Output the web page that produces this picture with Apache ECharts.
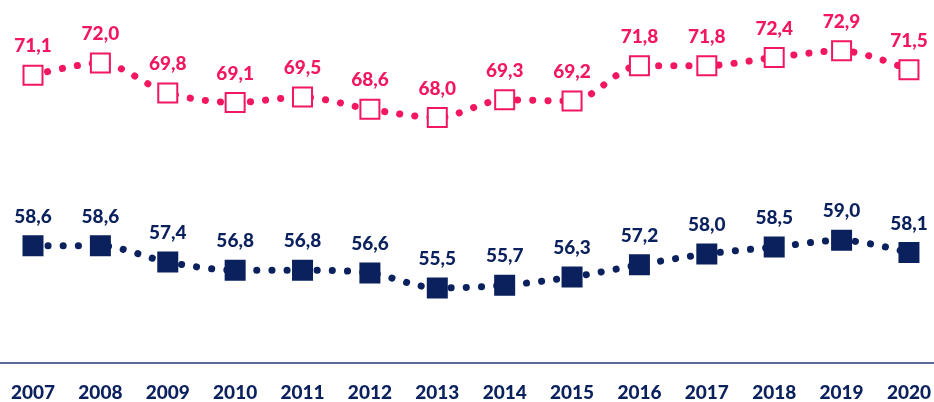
<!DOCTYPE html>
<html>
<head>
<meta charset="utf-8">
<script src="https://cdn.jsdelivr.net/npm/echarts@6/dist/echarts.min.js"></script>
<style>
  html, body { margin: 0; padding: 0; background: #fff; }
  #chart { width: 934px; height: 402px; }
</style>
</head>
<body>
<div id="chart"></div>
<script>
const years = ['2007', '2008', '2009', '2010', '2011', '2012', '2013', '2014', '2015', '2016', '2017', '2018', '2019', '2020'];
const pinkValues = [71.1, 72.0, 69.8, 69.1, 69.5, 68.6, 68.0, 69.3, 69.2, 71.8, 71.8, 72.4, 72.9, 71.5];
const navyValues = [58.6, 58.6, 57.4, 56.8, 56.8, 56.6, 55.5, 55.7, 56.3, 57.2, 58.0, 58.5, 59.0, 58.1];

const PINK = '#f2175e';
const NAVY = '#0b215e';
const fmt = p => p.value.toFixed(1).replace('.', ',');

function lineSeries(values, color, symbol) {
    return {
        type: 'line',
        data: values,
        smooth: 0.3,
        symbol: symbol,
        symbolSize: 19,
        showAllSymbol: true,
        itemStyle: { color: color, borderColor: color, borderWidth: 2 },
        lineStyle: { color: color, width: 7, type: [0.1, 15], cap: 'round' },
        label: {
            show: true,
            position: 'top',
            distance: 9,
            formatter: fmt,
            color: color,
            fontFamily: 'Lato',
            fontWeight: 900,
            fontSize: 19
        },
        animation: false
    };
}

const chart = echarts.init(document.getElementById('chart'));
chart.setOption({
    grid: { left: 33, right: 24, top: 22, bottom: 39 },
    // baseline runs across the full width in the original
    graphic: [{
        type: 'line',
        shape: { x1: 0, y1: 363, x2: 934, y2: 363 },
        style: { stroke: '#5b6a98', lineWidth: 2 },
        z: 0
    }],
    xAxis: {
        type: 'category',
        data: years,
        boundaryGap: false,
        axisLine: { show: false },
        axisTick: { show: false },
        axisLabel: {
            color: NAVY,
            fontFamily: 'Lato',
            fontWeight: 900,
            fontSize: 19,
            margin: 20
        }
    },
    yAxis: {
        type: 'value',
        min: 50,
        max: 75,
        show: false,
        splitLine: { show: false }
    },
    series: [
        lineSeries(pinkValues, PINK, 'emptyRect'),
        lineSeries(navyValues, NAVY, 'rect')
    ]
});
</script>
</body>
</html>
